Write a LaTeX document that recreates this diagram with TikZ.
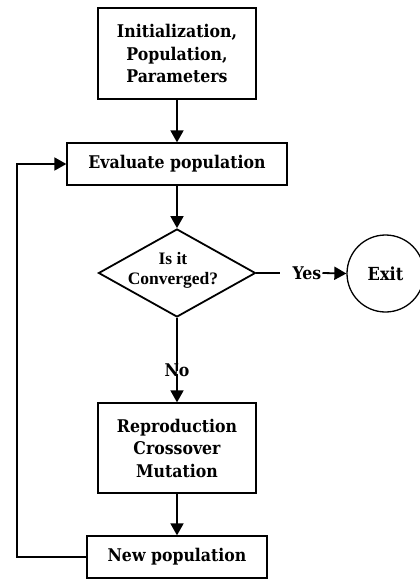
\documentclass[tikz,border=0pt]{standalone}
\usepackage{fontspec}
\setmainfont{DejaVu Serif Condensed}
\newfontfamily\timesb{Liberation Serif}
\usetikzlibrary{shapes.geometric,arrows.meta}
\begin{document}
\begin{tikzpicture}[x=1pt,y=-1pt,
  box/.style={draw,line width=1.3pt,fill=white,align=center,inner sep=0pt,
    font=\fontsize{17.5}{22.5}\selectfont\bfseries},
  lbl/.style={inner sep=0pt,font=\fontsize{17.5}{20}\selectfont\bfseries},
  conn/.style={line width=1.8pt},
  arr/.style={conn,-{Triangle[length=12pt,width=13pt]}}]
\useasboundingbox (0,0) rectangle (420,579);
\fill[white] (0,0) rectangle (420,579);
\node[box,minimum width=158pt,minimum height=91pt] (init) at (177,53.5) {Initialization,\\Population,\\Parameters};
\node[box,minimum width=220pt,minimum height=42pt] (eval) at (177,164) {Evaluate population};
\node[diamond,draw,line width=1.8pt,fill=white,inner sep=0pt,minimum width=157pt,minimum height=88pt] (dia) at (177,273) {};
\node[align=center,inner sep=0pt,font=\timesb\fontsize{17.5}{20}\selectfont\bfseries] (diatext) at (173,270) {Is it\\Converged?};
\node[circle,draw,line width=1.3pt,fill=white,minimum size=77pt,inner sep=0pt,font=\fontsize{18}{20}\selectfont\bfseries] (exit) at (385.5,273.5) {Exit};
\node[lbl] (yes) at (307,273) {Yes};
\node[lbl] (no) at (177,370) {No};
\node[box,minimum width=158pt,minimum height=90pt] (rep) at (177,448) {Reproduction\\Crossover\\Mutation};
\node[box,minimum width=180pt,minimum height=42pt] (newp) at (177,557) {New population};
\coordinate (yesin) at (280,273);
\coordinate (loopx) at (17,557);
\draw[arr] (init.south) -- (eval.north);
\draw[arr] (eval.south) -- (dia.north);
\draw[conn] (dia.east) -- (yesin);
\draw[arr] ([xshift=1pt]yes.east) -- (exit.west);
\draw[conn] (dia.south) -- ([yshift=-8pt]no.north);
\draw[arr] ([yshift=3pt]no.south) -- (rep.north);
\draw[arr] (rep.south) -- (newp.north);
\draw[arr] (newp.west) -- (loopx) |- (eval.west);
\end{tikzpicture}
\end{document}
